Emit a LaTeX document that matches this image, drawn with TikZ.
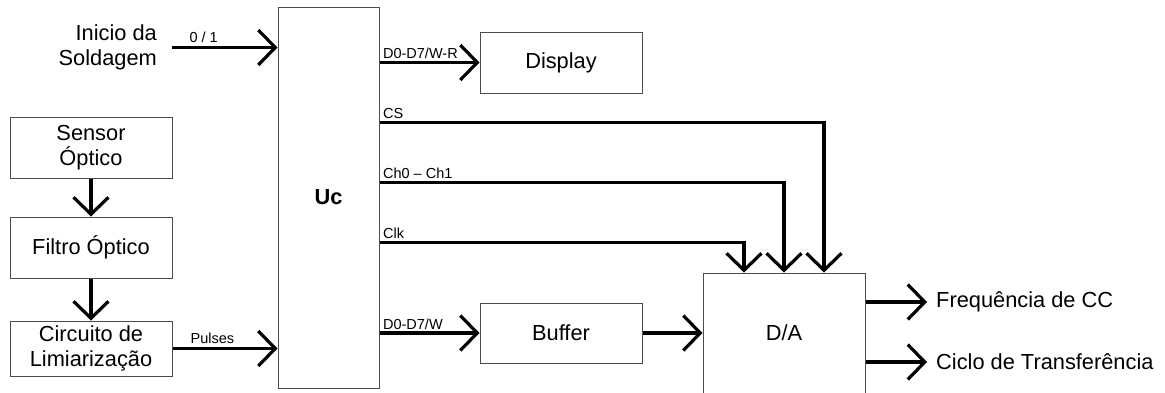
\documentclass[tikz,border=0pt]{standalone}
\usepackage{fontspec}
\setmainfont{Liberation Sans}
\usetikzlibrary{arrows.meta,positioning}
\tikzset{minimum size=0pt}

\begin{document}
\begin{tikzpicture}[x=1pt,y=-1pt,
            box/.style={draw=black!70,line width=1pt,inner sep=0pt,align=center,
                        minimum width=162pt,minimum height=61pt,
                        font=\fontsize{21.8}{25.5}\selectfont},
            txt/.style={font=\fontsize{21.8}{25.5}\selectfont},
            sig/.style={line width=3.2pt,-{Straight Barb[length=17pt,width=35pt]}},
            tag/.style={font=\fontsize{14.5}{17}\selectfont,inner sep=2pt}
            ]
            \useasboundingbox (0,0) rectangle (1165,392);
            % blocks
            \node[box,minimum width=101pt,minimum height=381pt,
                  font=\bfseries\fontsize{21.8}{25.5}\selectfont] (uc) at (328.5,197.5) {Uc};
            \node[box] (sensor) at (91,147.5) {Sensor\\Óptico};
            \node[box] (filtro) at (91,247.5) {Filtro Óptico};
            \node[box,minimum height=55pt] (circuito) at (91,348.5) {Circuito de\\Limiarização};
            \node[box] (display) at (561,62.5) {Display};
            \node[box,minimum height=60pt] (buffer) at (561,333) {Buffer};
            \node[box,minimum height=120pt] (da) at (784,333) {D/A};
            % free texts
            \node[txt,align=right,anchor=east,inner xsep=15pt] (inicio) at (172,47.5) {Inicio da\\Soldagem};
            \node[txt,anchor=west,inner xsep=9pt] (freq) at (927,302) {Frequência de CC};
            \node[txt,anchor=west,inner xsep=9pt] (ciclo) at (927,362) {Ciclo de Transferência};
            % inputs
            \draw[sig] (inicio.east) -- (uc.west |- inicio.east) node[tag,pos=0.3,above=1pt] {0 / 1};
            \draw[sig] (sensor) -- (filtro);
            \draw[sig] (filtro) -- (circuito);
            \draw[sig] (circuito) -- (uc.west |- circuito) node[tag,pos=0.38,above=1pt] {Pulses};
            % outputs of Uc
            \draw[sig] (uc.east |- display) -- (display) node[tag,pos=0,above right] {D0-D7/W-R};
            \draw[sig] ([yshift=-116pt]uc.north east) -| ([xshift=40pt]da.north) node[tag,pos=0,above right] {CS};
            \draw[sig] ([yshift=-176pt]uc.north east) -| (da.north) node[tag,pos=0,above right] {Ch0 – Ch1};
            \draw[sig] ([yshift=-236pt]uc.north east) -| ([xshift=-40pt]da.north) node[tag,pos=0,above right] {Clk};
            \draw[sig] (uc.east |- buffer) -- (buffer) node[tag,pos=0,above right] {D0-D7/W};
            \draw[sig] (buffer) -- (da.west |- buffer);
            % outputs of D/A
            \draw[sig] (da.east |- freq) -- (freq.west);
            \draw[sig] (da.east |- ciclo) -- (ciclo.west);
\end{tikzpicture}
\end{document}
